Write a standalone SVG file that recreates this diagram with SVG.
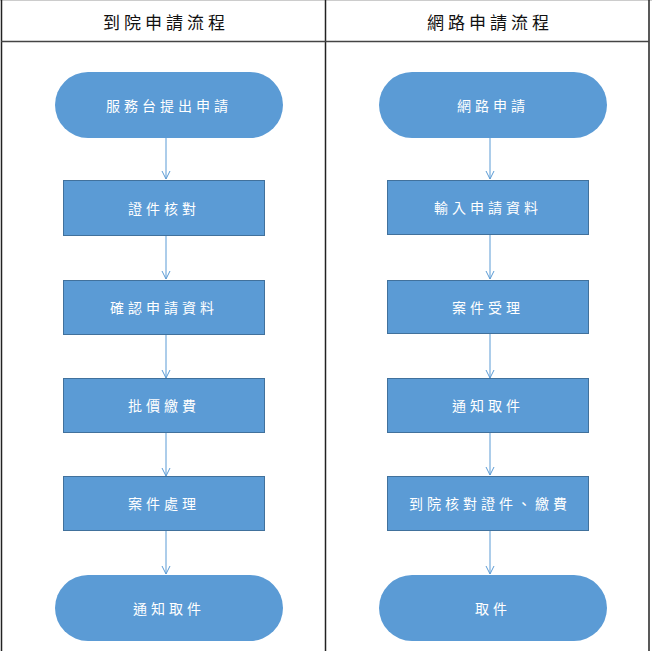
<svg xmlns="http://www.w3.org/2000/svg" width="652" height="651" viewBox="0 0 652 651">
<defs>
<style>
.frame{stroke:#222;stroke-width:1.5;fill:none}
.node{fill:#5B9BD5;stroke:#41719C;stroke-width:1}
.term{fill:#5B9BD5;stroke:none}
.lbl{font-family:"Noto Sans CJK TC","Noto Sans CJK SC",sans-serif;font-size:14px;fill:#fff;text-anchor:middle;dominant-baseline:central;letter-spacing:4px}
.hdr{font-family:"Noto Sans CJK TC","Noto Sans CJK SC",sans-serif;font-size:17px;fill:#111;text-anchor:middle;dominant-baseline:central;letter-spacing:4px}
.conn{stroke:#5B9BD5;stroke-width:1;fill:none}
</style>
<marker id="arr" markerWidth="10" markerHeight="10" refX="9" refY="5" orient="auto" markerUnits="userSpaceOnUse">
<path d="M1,1 L9,5 L1,9" fill="none" stroke="#5B9BD5" stroke-width="1"/>
</marker>
</defs>
<rect width="652" height="651" fill="#fff"/>
<g id="table">
<line x1="0" y1="0.5" x2="652" y2="0.5" stroke="#ccc" stroke-width="1"/>
<line class="frame" x1="1.5" y1="0" x2="1.5" y2="651"/>
<line class="frame" x1="649" y1="0" x2="649" y2="651"/>
<line class="frame" x1="325.5" y1="0" x2="325.5" y2="651"/>
<line x1="1" y1="41.5" x2="649" y2="41.5" stroke="#444" stroke-width="1.5"/>
<text class="hdr" x="166" y="21">到院申請流程</text>
<text class="hdr" x="490" y="21">網路申請流程</text>
</g>
<g id="connectors">
<line class="conn" x1="166" y1="138" x2="166" y2="179" marker-end="url(#arr)"/>
<line class="conn" x1="166" y1="236" x2="166" y2="279" marker-end="url(#arr)"/>
<line class="conn" x1="166" y1="335" x2="166" y2="378" marker-end="url(#arr)"/>
<line class="conn" x1="166" y1="433" x2="166" y2="476" marker-end="url(#arr)"/>
<line class="conn" x1="166" y1="531" x2="166" y2="574" marker-end="url(#arr)"/>
<line class="conn" x1="490" y1="138" x2="490" y2="179" marker-end="url(#arr)"/>
<line class="conn" x1="490" y1="235" x2="490" y2="279" marker-end="url(#arr)"/>
<line class="conn" x1="490" y1="334" x2="490" y2="378" marker-end="url(#arr)"/>
<line class="conn" x1="490" y1="433" x2="490" y2="475" marker-end="url(#arr)"/>
<line class="conn" x1="490" y1="531" x2="490" y2="574" marker-end="url(#arr)"/>
</g>
<g id="n1"><rect class="term" x="55" y="72" width="228" height="66" rx="33" ry="33"/><text class="lbl" x="169" y="105">服務台提出申請</text></g>
<g id="n2"><rect class="node" x="63.5" y="180.5" width="201" height="55"/><text class="lbl" x="164" y="208">證件核對</text></g>
<g id="n3"><rect class="node" x="63.5" y="280.5" width="201" height="54"/><text class="lbl" x="164" y="307">確認申請資料</text></g>
<g id="n4"><rect class="node" x="63.5" y="378.5" width="201" height="54"/><text class="lbl" x="164" y="405">批價繳費</text></g>
<g id="n5"><rect class="node" x="63.5" y="476.5" width="201" height="54"/><text class="lbl" x="164" y="503">案件處理</text></g>
<g id="n6"><rect class="term" x="55" y="575" width="228" height="66" rx="33" ry="33"/><text class="lbl" x="169" y="608">通知取件</text></g>
<g id="m1"><rect class="term" x="379" y="72" width="228" height="66" rx="33" ry="33"/><text class="lbl" x="493" y="105">網路申請</text></g>
<g id="m2"><rect class="node" x="387.5" y="180.5" width="201" height="54"/><text class="lbl" x="488" y="207">輸入申請資料</text></g>
<g id="m3"><rect class="node" x="387.5" y="280.5" width="201" height="53"/><text class="lbl" x="488" y="307">案件受理</text></g>
<g id="m4"><rect class="node" x="387.5" y="378.5" width="201" height="54"/><text class="lbl" x="488" y="405">通知取件</text></g>
<g id="m5"><rect class="node" x="387.5" y="476.5" width="201" height="54"/><text class="lbl" x="490" y="503">到院核對證件、繳費</text></g>
<g id="m6"><rect class="term" x="379" y="575" width="228" height="66" rx="33" ry="33"/><text class="lbl" x="493" y="608">取件</text></g>
</svg>
